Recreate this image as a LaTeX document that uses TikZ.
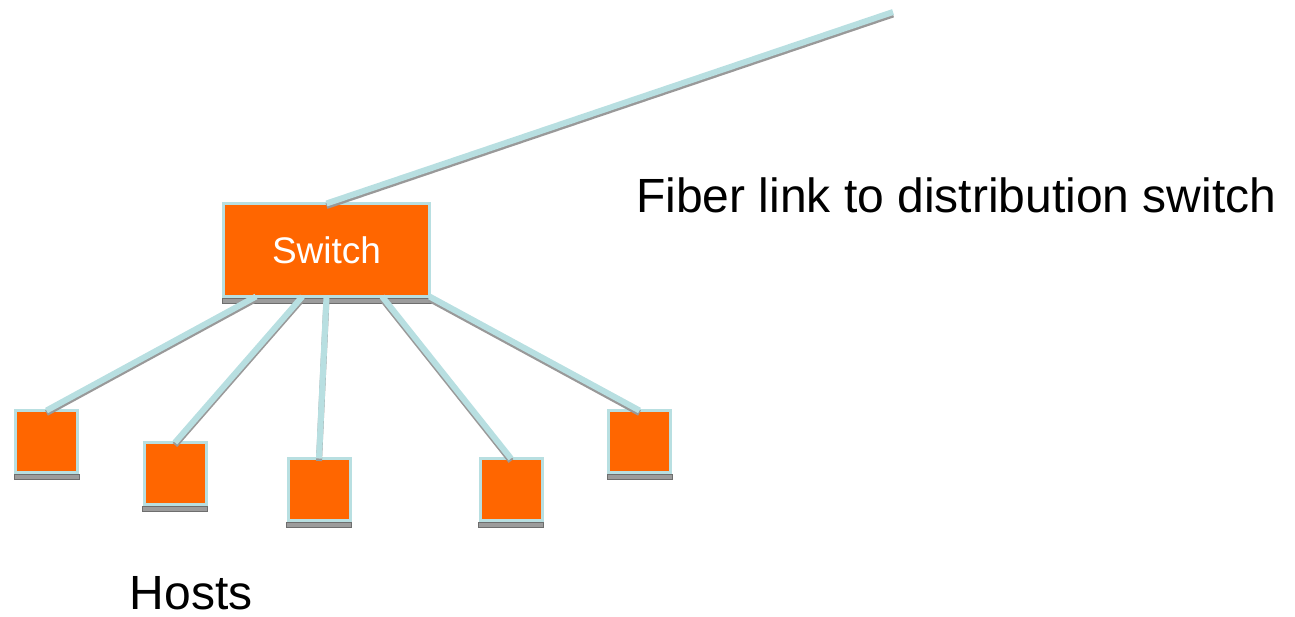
\documentclass[tikz,border=0pt]{standalone}
\usepackage{fontspec}
\setmainfont{Liberation Sans}
\usetikzlibrary{calc}
\definecolor{sworange}{HTML}{FF6600}
\definecolor{linkcyan}{HTML}{B8DFE1}
\definecolor{shadowgray}{HTML}{999999}
\definecolor{basegray}{HTML}{9C9C9C}
\definecolor{baseedge}{HTML}{6E6E6E}
\begin{document}
\begin{tikzpicture}[x=1pt,y=-1pt,
  devbox/.style={draw=linkcyan, fill=sworange, line width=3pt, inner sep=0pt, outer sep=0pt},
  hostbox/.style={devbox, minimum width=62pt, minimum height=62pt},
  link/.style={draw=linkcyan, line width=6pt},
  linkshadow/.style={draw=shadowgray, line width=6pt, transform canvas={yshift=-2.5pt}},
  basestrip/.style={fill=basegray, draw=baseedge, line width=0.8pt},
  label/.style={inner sep=0pt, anchor=base west, font=\fontsize{48}{57}\selectfont}]
\useasboundingbox (0,0) rectangle (1295,616);
% devices
\node[devbox, minimum width=206pt, minimum height=93pt, text=white,
      font=\fontsize{37}{44}\selectfont] (sw) at (326.5,250) {Switch};
\node[hostbox] (h1) at (46.5,441.5) {};
\node[hostbox] (h2) at (175,473.5) {};
\node[hostbox] (h3) at (319,489.5) {};
\node[hostbox] (h4) at (511,489.5) {};
\node[hostbox] (h5) at (639.5,441.5) {};
\foreach \n in {sw,h1,h2,h3,h4,h5}
  \path[basestrip] ($(\n.south west)+(-1.5,1.5)$) rectangle ($(\n.south east)+(1.5,6.5)$);
% links
\coordinate (fiberend) at (893,12);
\draw[linkshadow] (sw.north) -- (fiberend);
\foreach \f/\h in {0.158/h1, 0.383/h2, 0.5/h3, 0.77/h4, 1/h5}
  \draw[linkshadow] ($(sw.south west)!\f!(sw.south east)$) -- (\h.north);
\draw[link] (sw.north) -- (fiberend);
\foreach \f/\h in {0.158/h1, 0.383/h2, 0.5/h3, 0.77/h4, 1/h5}
  \draw[link] ($(sw.south west)!\f!(sw.south east)$) -- (\h.north);
% labels
\node[label] (fiberlabel) at (636,212) {Fiber link to distribution switch};
\node[label] (hostslabel) at (129.5,609) {Hosts};
\end{tikzpicture}
\end{document}
